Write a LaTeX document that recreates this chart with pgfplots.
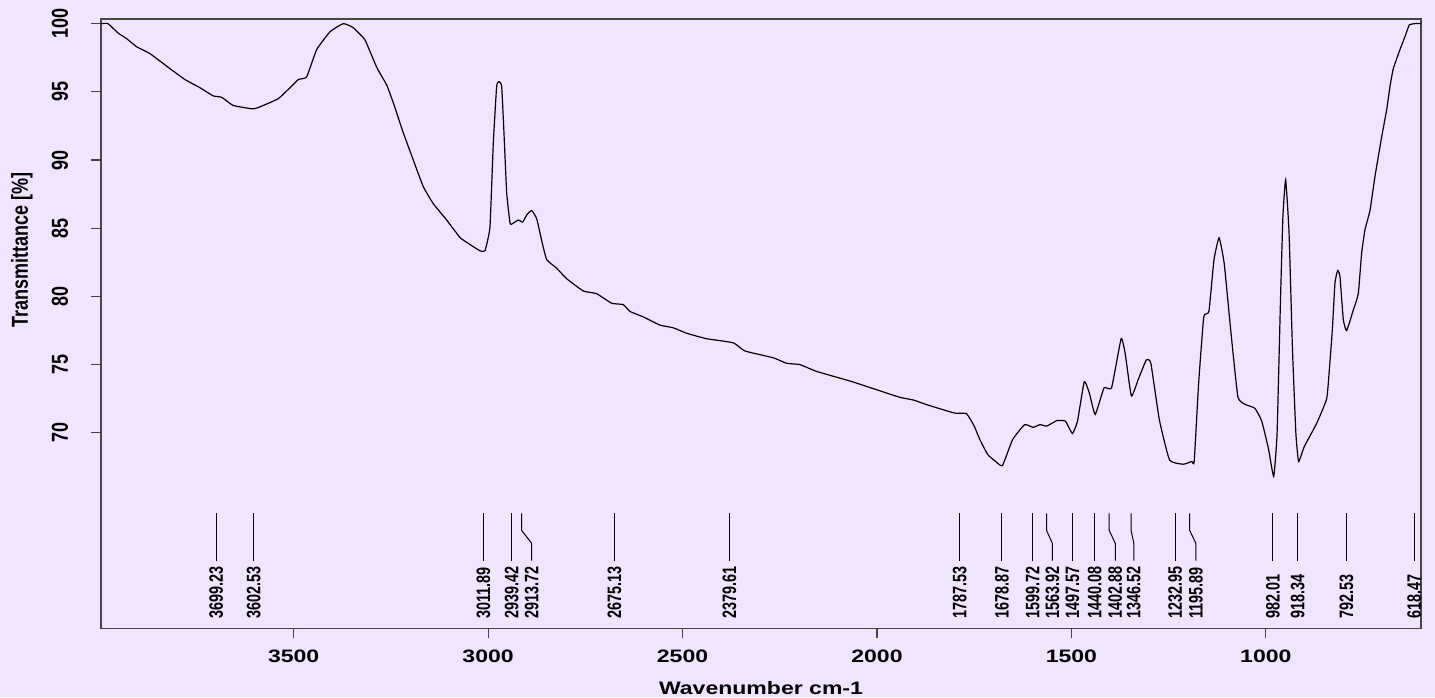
\documentclass[border=0pt]{standalone}
\usepackage{pgfplots}
\pgfplotsset{compat=1.18}
\usepackage{fontspec}
\setmainfont{Liberation Sans}
\definecolor{bg}{RGB}{240,228,254}
\definecolor{ax}{RGB}{70,70,70}
\pgfplotstableread{
w T
3995.5 100.0
3977.5 100.0
3951.0 99.3
3929.4 98.9
3903.7 98.3
3869.5 97.8
3818.1 96.7
3779.5 95.9
3740.9 95.3
3706.7 94.7
3685.1 94.6
3655.3 94.0
3603.9 93.75
3578.1 94.0
3539.5 94.5
3509.5 95.3
3488.1 95.9
3466.5 96.1
3440.8 98.1
3406.6 99.4
3372.4 100.0
3346.7 99.7
3316.6 98.8
3286.5 96.8
3260.8 95.5
3243.8 94.2
3218.1 92.0
3192.4 90.0
3166.7 88.05
3141.0 86.8
3106.5 85.6
3071.5 84.3
3038.1 83.65
3020.9 83.35
3008.0 83.35
2995.2 85.1
2986.7 91.2
2978.0 95.4
2972.1 95.75
2965.1 95.4
2959.2 92.0
2952.2 87.6
2943.8 85.4
2939.4 85.3
2922.4 85.6
2911.1 85.45
2900.8 85.97
2888.0 86.3
2875.1 85.7
2862.2 84.1
2849.4 82.7
2823.7 82.07
2798.0 81.3
2755.2 80.4
2720.8 80.2
2682.2 79.5
2652.4 79.4
2635.2 78.9
2600.9 78.5
2558.0 77.9
2523.8 77.7
2489.3 77.3
2437.9 76.9
2369.5 76.6
2339.4 76.0
2266.6 75.5
2232.2 75.1
2198.0 75.0
2155.0 74.5
2069.4 73.8
2026.5 73.4
1983.8 73.0
1940.8 72.6
1905.5 72.4
1870.6 72.05
1800.4 71.45
1769.6 71.4
1750.0 70.5
1735.3 69.5
1715.0 68.4
1695.0 67.9
1677.4 67.6
1651.2 69.5
1620.4 70.6
1598.5 70.4
1581.0 70.6
1563.3 70.5
1537.0 70.9
1515.2 70.85
1497.5 69.95
1484.4 70.85
1466.9 73.75
1453.7 72.9
1438.8 71.35
1416.0 73.3
1396.7 73.3
1372.1 76.9
1361.6 75.8
1345.8 72.7
1328.3 73.9
1307.3 75.35
1295.7 75.1
1273.8 70.95
1247.5 68.0
1212.3 67.7
1190.4 67.9
1184.2 67.9
1172.9 73.6
1159.6 78.5
1146.4 78.9
1133.3 82.7
1120.2 84.3
1107.0 82.4
1089.5 77.3
1072.0 72.65
1054.4 72.1
1028.1 71.8
1010.5 70.85
993.0 68.8
979.8 66.8
971.1 69.95
962.3 79.75
956.1 85.85
949.0 88.55
940.2 84.6
931.5 76.1
922.7 69.95
915.7 67.9
901.0 69.0
869.2 70.7
843.5 72.5
836.8 74.6
829.1 77.5
822.2 81.0
815.2 81.9
809.3 81.45
800.8 78.3
792.1 77.5
775.1 79.0
762.3 80.2
753.5 83.2
745.0 84.9
732.2 86.3
719.3 88.8
702.1 91.7
689.2 93.7
680.7 95.4
672.2 96.7
655.0 98.1
642.1 99.05
631.1 99.9
616.5 100.0
601.0 100.0
}\spectrum
\begin{document}
\begin{tikzpicture}[font=\bfseries]
\fill[bg] (-50.5pt,-34.35pt) rectangle (667pt,314.15pt);
\begin{axis}[
 scale only axis, width=660pt, height=304.65pt,
 x dir=reverse, xmin=601, xmax=3995.5, ymin=55.67, ymax=100.34,
 axis line style={ax, line width=0.6pt},
 xtick={1000,1500,2000,2500,3000,3500}, ytick={70,75,80,85,90,95,100},
 xtick pos=lower, ytick pos=left,
 tick align=outside, major tick length=5pt,
 tick style={ax, line width=0.6pt},
 /pgf/number format/1000 sep={},
 /pgf/number format/assume math mode=true,
 xticklabel style={font=\fontsize{9}{10}\selectfont\bfseries, anchor=center, yshift=-9pt, xscale=1.28},
 yticklabel style={font=\fontsize{9}{10}\selectfont\bfseries, anchor=center, xshift=-15.5pt, xscale=1.28, rotate=90},
 clip=false,
]
\addplot[black, line width=0.6pt, smooth, tension=0.25] table[x=w, y=T] {\spectrum};
% peak marker lines
\addplot[black, line width=0.5pt] coordinates {(3699.23,64.1) (3699.23,60.64)};
\addplot[black, line width=0.5pt] coordinates {(3602.53,64.1) (3602.53,60.64)};
\addplot[black, line width=0.5pt] coordinates {(3011.89,64.1) (3011.89,60.64)};
\addplot[black, line width=0.5pt] coordinates {(2939.42,64.1) (2939.42,60.64)};
\addplot[black, line width=0.5pt] coordinates {(2913.72,64.1) (2913.72,62.85) (2888.0,61.9) (2888.0,60.64)};
\addplot[black, line width=0.5pt] coordinates {(2675.13,64.1) (2675.13,60.64)};
\addplot[black, line width=0.5pt] coordinates {(2379.61,64.1) (2379.61,60.64)};
\addplot[black, line width=0.5pt] coordinates {(1787.53,64.1) (1787.53,60.64)};
\addplot[black, line width=0.5pt] coordinates {(1678.87,64.1) (1678.87,60.64)};
\addplot[black, line width=0.5pt] coordinates {(1599.72,64.1) (1599.72,60.64)};
\addplot[black, line width=0.5pt] coordinates {(1563.92,64.1) (1563.92,62.85) (1549.0,61.9) (1549.0,60.64)};
\addplot[black, line width=0.5pt] coordinates {(1497.57,64.1) (1497.57,60.64)};
\addplot[black, line width=0.5pt] coordinates {(1440.08,64.1) (1440.08,60.64)};
\addplot[black, line width=0.5pt] coordinates {(1402.88,64.1) (1402.88,62.85) (1387.2,61.9) (1387.2,60.64)};
\addplot[black, line width=0.5pt] coordinates {(1346.52,64.1) (1346.52,62.85) (1339.5,61.9) (1339.5,60.64)};
\addplot[black, line width=0.5pt] coordinates {(1232.95,64.1) (1232.95,60.64)};
\addplot[black, line width=0.5pt] coordinates {(1195.89,64.1) (1195.89,62.85) (1179.9,61.9) (1179.9,60.64)};
\addplot[black, line width=0.5pt] coordinates {(982.01,64.1) (982.01,60.64)};
\addplot[black, line width=0.5pt] coordinates {(918.34,64.1) (918.34,60.64)};
\addplot[black, line width=0.5pt] coordinates {(792.53,64.1) (792.53,60.64)};
\addplot[black, line width=0.5pt] coordinates {(618.47,64.1) (618.47,60.64)};
% peak labels
\tikzset{pl/.style={font=\fontsize{7.2}{8}\selectfont\bfseries, xscale=1.35, rotate=90, anchor=west, inner sep=0pt}}
\node[pl] at (axis cs:3699.23,56.36) {3699.23};
\node[pl] at (axis cs:3602.53,56.36) {3602.53};
\node[pl] at (axis cs:3011.89,56.36) {3011.89};
\node[pl] at (axis cs:2939.42,56.36) {2939.42};
\node[pl] at (axis cs:2888.0,56.36) {2913.72};
\node[pl] at (axis cs:2675.13,56.36) {2675.13};
\node[pl] at (axis cs:2379.61,56.36) {2379.61};
\node[pl] at (axis cs:1787.53,56.36) {1787.53};
\node[pl] at (axis cs:1678.87,56.36) {1678.87};
\node[pl] at (axis cs:1599.72,56.36) {1599.72};
\node[pl] at (axis cs:1549.0,56.36) {1563.92};
\node[pl] at (axis cs:1497.57,56.36) {1497.57};
\node[pl] at (axis cs:1440.08,56.36) {1440.08};
\node[pl] at (axis cs:1387.2,56.36) {1402.88};
\node[pl] at (axis cs:1339.5,56.36) {1346.52};
\node[pl] at (axis cs:1232.95,56.36) {1232.95};
\node[pl] at (axis cs:1179.9,56.36) {1195.89};
\node[pl] at (axis cs:982.01,56.36) {982.01};
\node[pl] at (axis cs:918.34,56.36) {918.34};
\node[pl] at (axis cs:792.53,56.36) {792.53};
\node[pl] at (axis cs:618.47,56.36) {618.47};
\end{axis}
\node[font=\fontsize{9}{10}\selectfont\bfseries, xscale=1.28] at (330pt,-30pt) {Wavenumber cm-1};
\node[font=\fontsize{9}{10}\selectfont\bfseries, xscale=1.28, rotate=90] at (-39.5pt,189.15pt) {Transmittance [\%]};
\pgfresetboundingbox
\useasboundingbox (-50.5pt,-34.35pt) rectangle (667pt,314.15pt);
\end{tikzpicture}
\end{document}
